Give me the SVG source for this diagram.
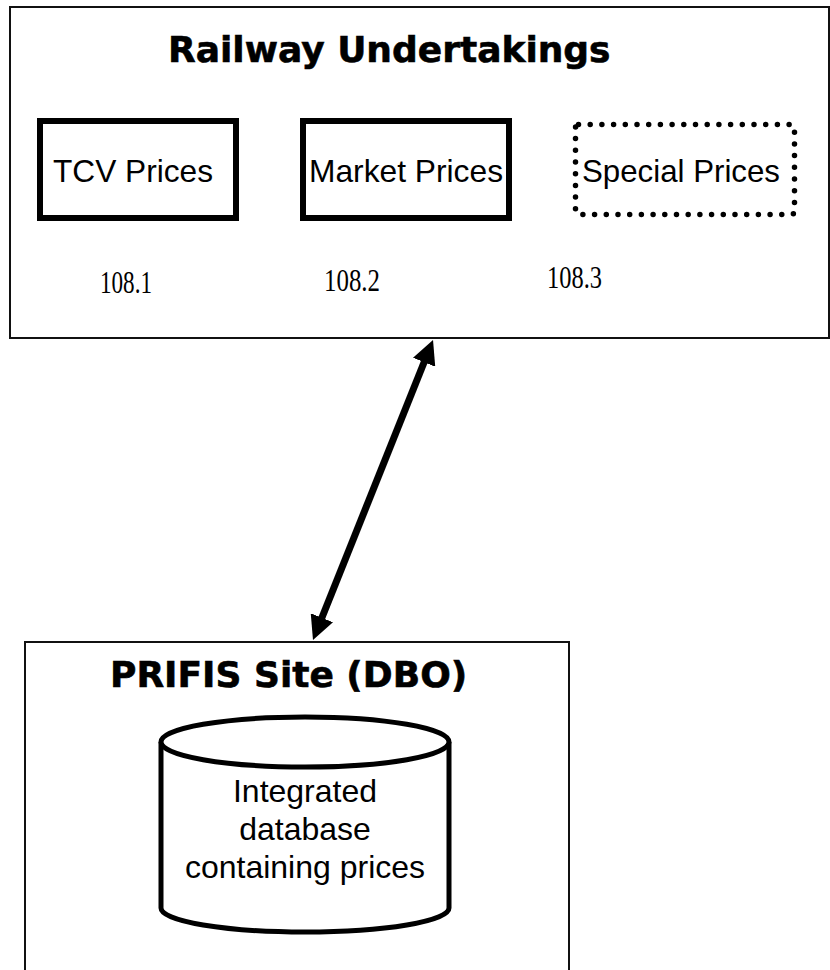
<svg xmlns="http://www.w3.org/2000/svg" width="830" height="970" viewBox="0 0 830 970">
  <style>
    .frame { fill: #fff; stroke: #111; stroke-width: 2; }
    .price { fill: #fff; stroke: #000; stroke-width: 6; }
    .dotted { fill: none; stroke: #000; stroke-width: 5.5; stroke-dasharray: 0 11.7; stroke-linecap: round; }
    .title { font-family: "DejaVu Sans", "Liberation Sans", sans-serif; font-weight: bold; font-size: 36px; fill: #000; stroke: #000; stroke-width: 0.6; }
    .label { font-family: "Liberation Sans", Arial, sans-serif; font-size: 32px; fill: #000; }
    .num { font-family: "Liberation Serif", "Times New Roman", serif; font-size: 32px; fill: #000; }
    .db { fill: #fff; stroke: #000; stroke-width: 5; }
    .link { stroke: #000; stroke-width: 7; fill: none; }
  </style>
  <defs>
    <marker id="head" viewBox="0 0 24 24" refX="7" refY="12" markerWidth="24" markerHeight="24" markerUnits="userSpaceOnUse" orient="auto-start-reverse">
      <path d="M0,0 L24,12 L0,24 z" fill="#000"/>
    </marker>
  </defs>
  <rect width="830" height="970" fill="#fff"/>

  <g id="railway-undertakings">
    <rect class="frame" x="10" y="7" width="819" height="331"/>
    <text class="title" x="168" y="62">Railway Undertakings</text>
  </g>

  <g id="tcv-prices">
    <rect class="price" x="40" y="121" width="196" height="97"/>
    <text class="label" x="53" y="182" textLength="160" lengthAdjust="spacingAndGlyphs">TCV Prices</text>
    <text class="num" x="100" y="293" textLength="52" lengthAdjust="spacingAndGlyphs">108.1</text>
  </g>

  <g id="market-prices">
    <rect class="price" x="303" y="121" width="206" height="97"/>
    <text class="label" x="309" y="182" textLength="194" lengthAdjust="spacingAndGlyphs">Market Prices</text>
    <text class="num" x="324" y="291" textLength="56" lengthAdjust="spacingAndGlyphs">108.2</text>
  </g>

  <g id="special-prices">
    <rect class="dotted" x="575.5" y="124.5" width="219" height="90" rx="3"/>
    <text class="label" x="582" y="182" textLength="198" lengthAdjust="spacingAndGlyphs">Special Prices</text>
    <text class="num" x="547" y="288" textLength="55" lengthAdjust="spacingAndGlyphs">108.3</text>
  </g>

  <g id="prifis-site">
    <rect class="frame" x="25" y="642" width="544" height="340"/>
    <text class="title" x="110" y="687">PRIFIS Site (DBO)</text>
  </g>

  <g id="integrated-database">
    <path class="db" d="M161,742 L161,908 A144,24 0 0 0 449,908 L449,742"/>
    <ellipse class="db" cx="305" cy="742" rx="144" ry="25"/>
    <text class="label" x="305" y="802" text-anchor="middle">Integrated</text>
    <text class="label" x="305" y="840" text-anchor="middle">database</text>
    <text class="label" x="305" y="878" text-anchor="middle">containing prices</text>
  </g>

  <g id="connectors">
    <line class="link" x1="319.3" y1="624.2" x2="426.7" y2="355.8" marker-start="url(#head)" marker-end="url(#head)"/>
  </g>
</svg>
